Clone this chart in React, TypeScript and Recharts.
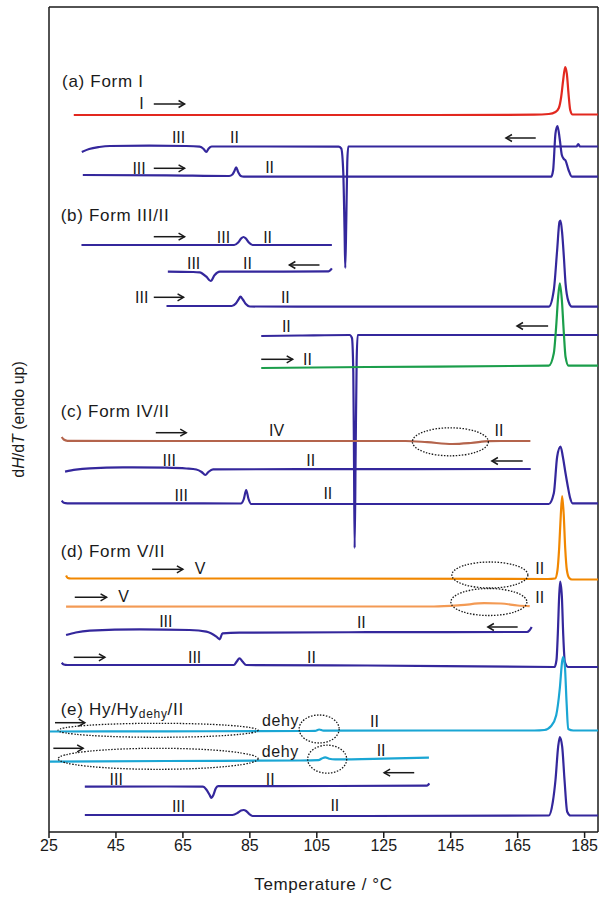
import React from 'react';
import { LineChart, Line, XAxis, YAxis, ReferenceLine, ReferenceDot } from 'recharts';

type Pt = [number, number];

// [temperature °C, dH/dT with each run stacked on its own offset]
const formIHeat: Pt[] = [[32.4,717],[60,717],[100,717],[140,717],[170,717.3],[174.3,718],[176.3,720],[177.3,724],[178.0,735],[178.6,752],[179.2,765],[179.7,758],[180.2,738],[180.7,722],[181.4,717.5],[189,717.5]];
const formICool: Pt[] = [[34.8,680],[37,683],[40,685],[43.2,686],[55,686.3],[66,686],[70,685.3],[71.2,683],[72.0,680],[72.7,683.5],[73.6,685.5],[90,685.5],[111.5,685.3],[112.3,683.5],[112.9,660],[113.3,600],[113.5,564],[113.8,610],[114.1,670],[114.4,685.5],[150,685.5],[182.6,685.5],[183.1,688],[183.6,685.5],[189,685.5]];
const formIReheat: Pt[] = [[35.1,657],[60,656.7],[78.8,656],[79.8,657.5],[80.4,661],[80.9,664.7],[81.5,660],[82.3,656],[83.2,655.3],[120,655.3],[175.0,655.3],[175.6,662],[176.3,698.7],[176.9,706],[177.6,692],[178.2,677],[178.8,673],[179.3,671.5],[180.2,662],[181.2,655.3],[189,655.3]];

const formIIIHeat: Pt[] = [[34.7,587],[60,587],[80.3,587],[81.5,589.5],[82.4,593.5],[83.1,595],[83.8,593.5],[84.7,589.5],[85.8,587],[109.5,587]];
const formIIICool: Pt[] = [[60.5,560.3],[68,560],[70.0,559.7],[72.0,555.3],[73.3,551],[74.5,557],[76.0,560.3],[95,560.3],[108.5,560.6],[109.1,562],[109.5,563.7]];
const formIIIReheat: Pt[] = [[60.1,526],[70,526],[79.6,526],[80.8,528.5],[81.6,532.5],[82.2,535.3],[82.9,532.5],[83.8,528],[85,525.5],[100,525.3],[174.3,525.3],[175.8,542],[176.8,582],[177.5,610.3],[177.8,611.3],[178.3,598.7],[178.8,575.3],[179.3,548.7],[180.2,530.3],[181.2,525.3],[189,525.3]];
const formIICool: Pt[] = [[88.4,496],[100,496.5],[114.8,497],[115.5,494],[115.9,460],[116.1,380],[116.3,284],[116.6,380],[116.9,470],[117.2,497],[150,497],[189,497]];
const formIIHeat: Pt[] = [[88.4,464],[120,465],[174.3,466.3],[175.8,478.7],[176.5,505.3],[177.1,535.3],[177.6,548.7],[178.2,532],[178.8,498.7],[179.3,475.3],[180.2,466.3],[189,466.3]];

const formIVHeat: Pt[] = [[28.8,395],[29.4,392.5],[30.5,391.2],[60,391],[100,391],[131.5,391],[138,389.8],[145.5,388],[151,389],[156.5,390.8],[160,391],[168.8,391]];
const formIVCool: Pt[] = [[29.8,360.3],[33,362.3],[37.2,363.7],[47.1,364.7],[60,364.3],[66,363.5],[69,362.5],[70.6,360],[71.7,357],[72.6,360],[74.0,362.7],[100,362.8],[168.9,363]];
const formIVReheat: Pt[] = [[28.8,331.3],[29.4,329.2],[30.5,328.7],[60,328.7],[82.3,328.5],[83.2,333],[83.9,342],[84.6,333],[85.4,328],[120,328],[174.3,328],[175.8,338.7],[176.8,375.3],[177.8,385.3],[178.5,375.3],[179.3,358.7],[180.0,345.3],[180.7,333.7],[181.4,328.7],[189,328.7]];

const formVHeat: Pt[] = [[30.1,256.5],[30.6,254],[31.5,253.5],[100,253.5],[174,253],[176.2,253.5],[176.9,262],[177.4,284],[177.9,318],[178.3,336],[178.75,318],[179.2,284],[179.7,262],[180.4,254],[181.2,252.5],[189,252.5]];
const formVHeat2: Pt[] = [[30.1,225.3],[80,225.5],[140,225.5],[148,226.8],[155,228.8],[160,228.5],[165,226.5],[168.6,225.8]];
const formVCool: Pt[] = [[30.1,197],[33,199.5],[37.2,201.3],[52.1,202.7],[67,202],[72,200.3],[75,195.3],[76,192.7],[76.8,198.7],[81.9,199.3],[120,199.8],[167.8,200],[168.5,201.5],[169.2,205]];
const formVReheat: Pt[] = [[28.8,169.3],[29.4,167.5],[30.5,167],[60,167],[80.2,167],[81.1,170.5],[81.9,173.7],[82.8,170.5],[83.9,167],[120,166.5],[176.0,165],[176.6,172],[177.0,198.4],[177.4,236],[177.7,250.5],[178.2,236],[178.6,198.4],[179.1,170],[180.1,165],[189,165]];

const hydrateHeat: Pt[] = [[25.3,100.5],[60,100.7],[100,101],[104.5,101.2],[105.7,102.5],[107,101.3],[140,101.5],[170,101.5],[173.0,102],[175,106],[176.5,116.5],[177.6,144],[178.3,171],[178.6,175],[179.1,166],[179.6,130.5],[180.1,103],[181.6,101.5],[189,101.5]];
const hydrateHeat2: Pt[] = [[25.3,70.3],[60,71],[100,71.5],[105.5,71.8],[106.5,73.5],[107.5,74.7],[108.7,73.3],[110.5,72.6],[125,73.3],[138.5,74.3]];
const hydrateCool: Pt[] = [[35.7,45.3],[60,45.5],[71.0,45.3],[72.0,42.5],[73.0,37],[73.5,34],[74.1,37],[74.8,43.5],[75.5,45.8],[110,46],[137.8,46.3],[138.3,47.3],[138.6,48.7]];
const hydrateReheat: Pt[] = [[35.7,17],[60,17],[79.8,17],[81.5,19.5],[82.4,21.5],[83.1,22],[83.9,21],[84.8,18],[85.8,16],[120,16],[174.3,16.5],[175.5,30],[176.3,52],[177.1,85.3],[177.6,95],[178.3,85.3],[179.0,52],[179.8,20.3],[180.8,16.5],[189,16.5]];

const xTicks = [25, 45, 65, 85, 105, 125, 145, 165, 185];

const BLUE = '#34279c';
const runs: { name: string; data: Pt[]; color: string }[] = [
  { name: 'I heat', data: formIHeat, color: '#e2281f' },
  { name: 'I cool', data: formICool, color: BLUE },
  { name: 'I reheat', data: formIReheat, color: BLUE },
  { name: 'III heat', data: formIIIHeat, color: BLUE },
  { name: 'III cool', data: formIIICool, color: BLUE },
  { name: 'III reheat', data: formIIIReheat, color: BLUE },
  { name: 'II cool', data: formIICool, color: BLUE },
  { name: 'II heat', data: formIIHeat, color: '#1b9e4b' },
  { name: 'IV heat', data: formIVHeat, color: '#b4644c' },
  { name: 'IV cool', data: formIVCool, color: BLUE },
  { name: 'IV reheat', data: formIVReheat, color: BLUE },
  { name: 'V heat', data: formVHeat, color: '#f18700' },
  { name: 'V heat 2', data: formVHeat2, color: '#f39a54' },
  { name: 'V cool', data: formVCool, color: BLUE },
  { name: 'V reheat', data: formVReheat, color: BLUE },
  { name: 'Hy heat', data: hydrateHeat, color: '#1aa6d4' },
  { name: 'Hy heat 2', data: hydrateHeat2, color: '#1aa6d4' },
  { name: 'Hy cool', data: hydrateCool, color: BLUE },
  { name: 'Hy reheat', data: hydrateReheat, color: BLUE },
];

// phase labels [text, T, value]
const phaseLabels: [string, number, number][] = [
  ['I', 52.6, 728.7], ['III', 63.7, 695], ['II', 80.4, 695], ['III', 51.9, 664], ['II', 90.9, 665],
  ['III', 77.1, 595], ['II', 90.3, 595], ['III', 68.2, 568.7], ['II', 84.3, 568.7],
  ['III', 52.7, 534.3], ['II', 95.6, 534.3], ['II', 95.9, 506], ['II', 102.2, 472.7],
  ['IV', 93.0, 402], ['II', 159.4, 402], ['III', 60.9, 371.3], ['II', 103.2, 371.3],
  ['III', 64.5, 337], ['II', 108.3, 338.7],
  ['V', 70.1, 263.7], ['II', 171.6, 264], ['V', 47.3, 235.3], ['II', 171.6, 235],
  ['III', 59.9, 211], ['II', 118.3, 210], ['III', 68.5, 174.7], ['II', 103.4, 174.7],
  ['dehy', 94.2, 111.3], ['II', 122.2, 110.3], ['dehy', 94.1, 80.3], ['II', 124.2, 82],
  ['III', 45.1, 52.7], ['II', 91.1, 52.7], ['III', 63.7, 26], ['II', 110.4, 27],
];

// section headings [text, T, value]
const sectionTitles: [string, number, number][] = [
  ['(a) Form I', 28.9, 751],
  ['(b) Form III/II', 28.5, 617],
  ['(c) Form IV/II', 28.5, 420.3],
  ['(d) Form V/II', 28.5, 280.3],
];

// scan direction arrows [T tail, T head, value]
const scanArrows: [number, number, number][] = [
  [56.3, 65.5, 728], [170.4, 161.5, 694], [56.3, 65.5, 663.7],
  [56.3, 65.5, 595.3], [105.8, 96.8, 567], [56.3, 65.2, 534.7], [174.1, 164.8, 506], [88.4, 97.8, 472.7],
  [56.9, 66.0, 399.3], [166.5, 157.3, 371],
  [55.8, 65.0, 262.7], [32.7, 42.2, 234.7], [165.0, 156.1, 205], [32.4, 41.7, 174.7],
  [26.8, 35.7, 109.3], [26.3, 35.2, 83.7], [134.1, 125.1, 59.3],
];

// dotted rings around weak events [T, value, rx, ry]
const rings: [number, number, number, number][] = [
  [144.9, 390.2, 38, 14],
  [156.7, 257, 38, 13],
  [156.4, 230, 38, 13.5],
  [57.6, 101.7, 100, 7],
  [105.7, 103, 20, 14],
  [57.6, 73.2, 100, 10.5],
  [108.1, 72.8, 19.5, 14],
];

const FONT = '"Liberation Sans", Arial, sans-serif';
const INK = '#1a1a1a';

const Arrow = (p: any) => {
  const { x1, y1, x2, y2 } = p;
  const d = x2 > x1 ? -1 : 1;
  return (
    <g stroke={INK} strokeWidth={1.5} fill="none">
      <line x1={x1} y1={y1} x2={x2} y2={y2} />
      <polyline points={`${x2 + d * 6},${y2 - 3.5} ${x2},${y2} ${x2 + d * 6},${y2 + 3.5}`} />
    </g>
  );
};

const XTitle = (p: any) => {
  const vb = p.viewBox || { x: 49, y: 832, width: 549 };
  return (
    <text x={vb.x + vb.width / 2} y={vb.y + 58} textAnchor="middle" fontSize={17} letterSpacing={0.6} fontFamily={FONT} fill={INK}>
      Temperature / °C
    </text>
  );
};

const YTitle = (p: any) => {
  const vb = p.viewBox || { x: 0, y: 7, height: 825 };
  const cx = 18;
  const cy = vb.y + vb.height / 2;
  return (
    <text x={cx} y={cy} transform={`rotate(-90 ${cx} ${cy})`} textAnchor="middle" dominantBaseline="central" fontSize={16} fontFamily={FONT} fill={INK}>
      d<tspan fontStyle="italic">H</tspan>/d<tspan fontStyle="italic">T</tspan> (endo up)
    </text>
  );
};

export default function App() {
  return (
    <div style={{ position: 'fixed', left: 0, top: 0, width: 603, height: 909, background: '#fff' }}>
      <LineChart width={603} height={909} margin={{ top: 7, right: 5, bottom: 0, left: 0 }}>
        <XAxis
          type="number"
          dataKey="t"
          domain={[25, 189]}
          ticks={xTicks}
          allowDataOverflow
          height={77}
          tickSize={6}
          axisLine={{ stroke: INK, strokeWidth: 1.5 }}
          tickLine={{ stroke: INK, strokeWidth: 1.5 }}
          tick={{ fill: INK, fontSize: 16, fontFamily: FONT }}
          label={<XTitle />}
        />
        <YAxis
          type="number"
          dataKey="v"
          domain={[0, 825]}
          allowDataOverflow
          width={49}
          tick={false}
          tickLine={false}
          axisLine={{ stroke: INK, strokeWidth: 1.5 }}
          label={<YTitle />}
        />
        <ReferenceLine y={825} stroke={INK} strokeWidth={1.5} />
        <ReferenceLine x={189} stroke={INK} strokeWidth={1.5} />
        {runs.map(r => (
          <Line
            key={r.name}
            name={r.name}
            data={r.data.map(([t, v]) => ({ t, v }))}
            dataKey="v"
            type="monotone"
            stroke={r.color}
            strokeWidth={2.2}
            dot={false}
            activeDot={false}
            isAnimationActive={false}
          />
        ))}
        {rings.map(([t, v, rx, ry], i) => (
          <ReferenceDot
            key={`ring${i}`}
            x={t}
            y={v}
            r={1}
            shape={(p: any) => (
              <ellipse cx={p.cx} cy={p.cy} rx={rx} ry={ry} fill="none" stroke={INK} strokeWidth={1.3} strokeDasharray="1.5 1.5" />
            )}
          />
        ))}
        {scanArrows.map(([a, b, v], i) => (
          <ReferenceLine key={`arr${i}`} segment={[{ x: a, y: v }, { x: b, y: v }]} shape={Arrow} />
        ))}
        {phaseLabels.map(([txt, t, v], i) => (
          <ReferenceDot
            key={`lab${i}`}
            x={t}
            y={v}
            r={1}
            shape={(p: any) => (
              <text x={p.cx} y={p.cy} textAnchor="middle" dominantBaseline="central" fontSize={16} letterSpacing={txt === 'dehy' ? 0.6 : 0} fontFamily={FONT} fill={INK}>
                {txt}
              </text>
            )}
          />
        ))}
        {sectionTitles.map(([txt, t, v], i) => (
          <ReferenceDot
            key={`sec${i}`}
            x={t}
            y={v}
            r={1}
            shape={(p: any) => (
              <text x={p.cx} y={p.cy} textAnchor="start" dominantBaseline="central" fontSize={17} letterSpacing={0.7} fontFamily={FONT} fill={INK}>
                {txt}
              </text>
            )}
          />
        ))}
        <ReferenceDot
          x={28.5}
          y={123}
          r={1}
          shape={(p: any) => (
            <text x={p.cx} y={p.cy} textAnchor="start" dominantBaseline="central" fontSize={17} letterSpacing={0.7} fontFamily={FONT} fill={INK}>
              (e) Hy/Hy
              <tspan fontSize={12} dy={5}>dehy</tspan>
              <tspan dy={-5}>/II</tspan>
            </text>
          )}
        />
      </LineChart>
    </div>
  );
}
